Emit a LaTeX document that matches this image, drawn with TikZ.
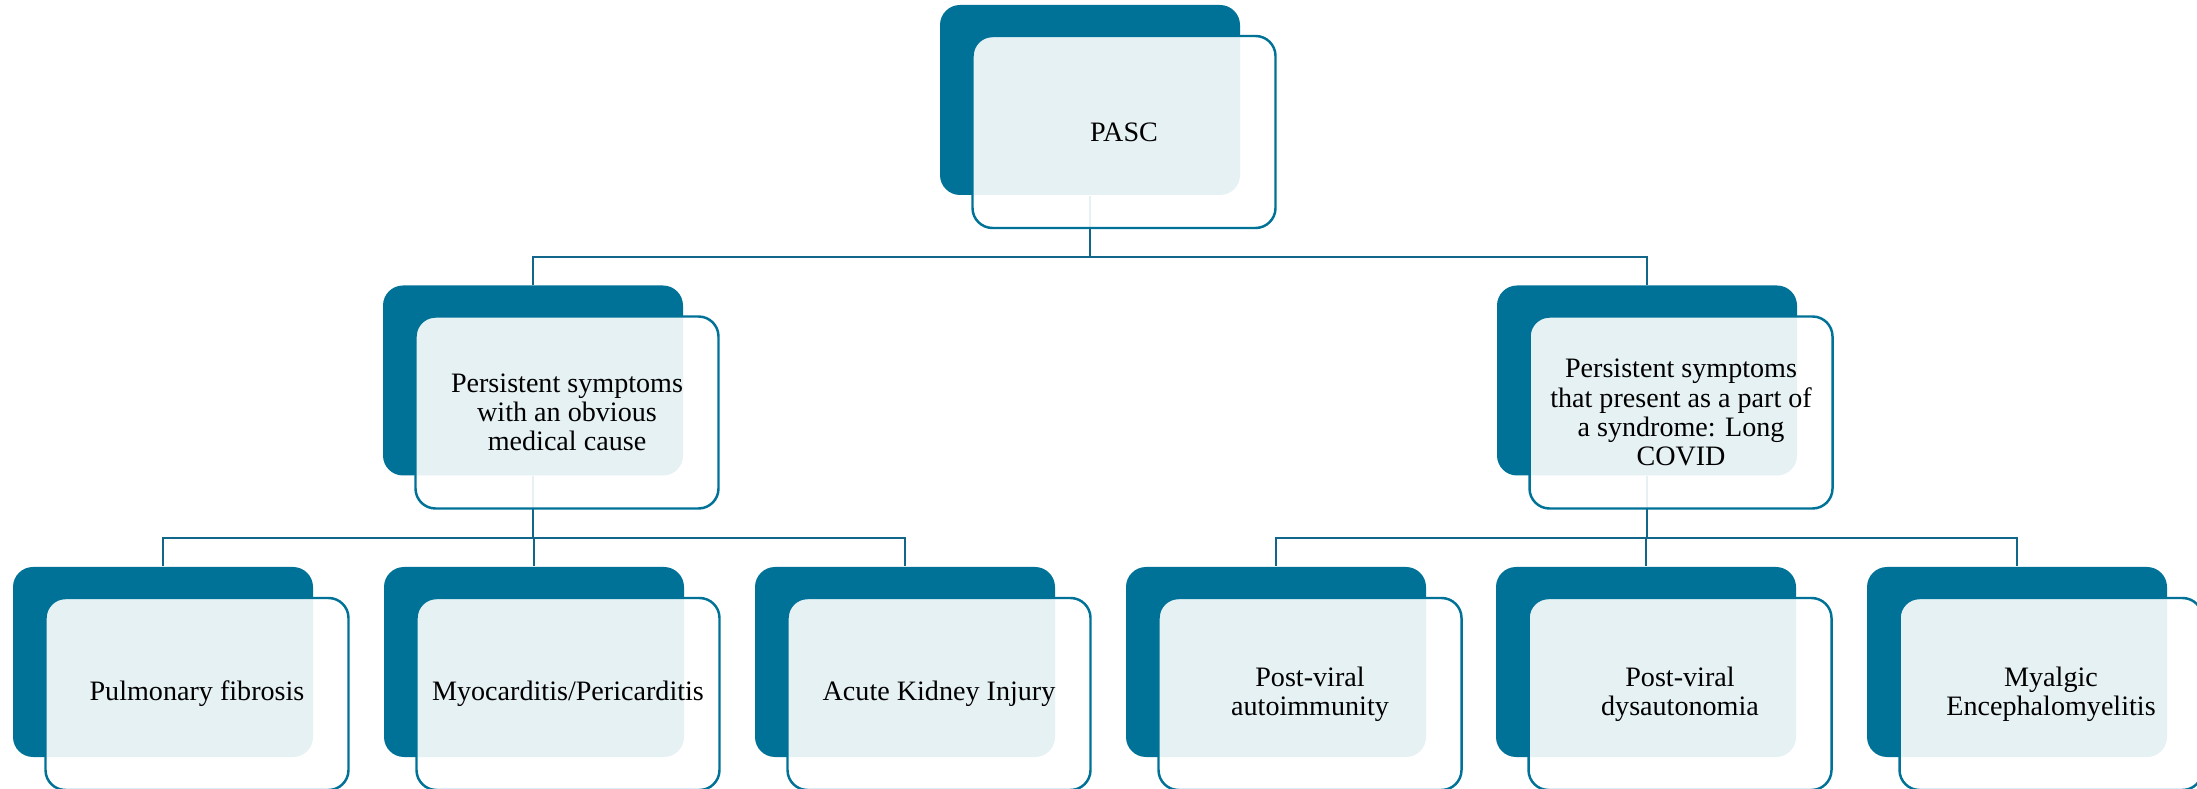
\documentclass[tikz,border=0pt]{standalone}
\usepackage{fontspec}
\setmainfont{Liberation Serif}
\usepackage{xcolor}
\usetikzlibrary{positioning, calc}
\definecolor{pascteal}{HTML}{007298}
\definecolor{linkteal}{HTML}{12668A}

\begin{document}
\begin{tikzpicture}[
  back/.style={rectangle, rounded corners=0.2cm, fill=pascteal, minimum width=3cm, minimum height=1.9cm, inner sep=0pt},
  front/.style={rectangle, rounded corners=0.2cm, draw=pascteal, line width=0.7pt, fill=white, fill opacity=0.9, text opacity=1,
    minimum width=3.03cm, minimum height=1.92cm, inner sep=1pt, align=center, font=\fontsize{8}{8.3}\selectfont},
  link/.style={draw=linkteal, line width=0.6pt}
]
  \useasboundingbox (0,0) rectangle (21.97,-7.89);

  % Back cards
  \node[back] (pasc-bg) at (10.90, -1.00) {};
  \node[back] (obv-bg) at (5.33, -3.805) {};
  \node[back] (syn-bg) at (16.47, -3.805) {};
  \node[back] (pf-bg) at (1.63, -6.62) {};
  \node[back] (myo-bg) at (5.34, -6.62) {};
  \node[back] (aki-bg) at (9.05, -6.62) {};
  \node[back] (auto-bg) at (12.76, -6.62) {};
  \node[back] (dys-bg) at (16.46, -6.62) {};
  \node[back] (me-bg) at (20.17, -6.62) {};

  % Links PASC -> causes
  \draw[link] (pasc-bg.south) -- ++(0,-0.61) -| (obv-bg.north);
  \draw[link] (pasc-bg.south) -- ++(0,-0.61) -| (syn-bg.north);

  % Links obvious cause -> conditions
  \draw[link] (obv-bg.south) -- ++(0,-0.615) -| (pf-bg.north);
  \draw[link] (obv-bg.south) -- ++(0,-0.615) -| (myo-bg.north);
  \draw[link] (obv-bg.south) -- ++(0,-0.615) -| (aki-bg.north);

  % Links syndrome -> conditions
  \draw[link] (syn-bg.south) -- ++(0,-0.615) -| (auto-bg.north);
  \draw[link] (syn-bg.south) -- ++(0,-0.615) -| (dys-bg.north);
  \draw[link] (syn-bg.south) -- ++(0,-0.615) -| (me-bg.north);

  % Front cards with text
  \node[front] (pasc) at (11.24, -1.32) {PASC};
  \node[front] (obv) at (5.67, -4.125) {Persistent symptoms\\with an obvious\\medical cause};
  \node[front] (syn) at (16.81, -4.125) {Persistent symptoms\\that present as a part of\\a syndrome: Long\\COVID};
  \node[front] (pf) at (1.97, -6.94) {Pulmonary fibrosis};
  \node[front] (myo) at (5.68, -6.94) {Myocarditis/Pericarditis};
  \node[front] (aki) at (9.39, -6.94) {Acute Kidney Injury};
  \node[front] (auto) at (13.10, -6.94) {Post-viral\\autoimmunity};
  \node[front] (dys) at (16.80, -6.94) {Post-viral\\dysautonomia};
  \node[front] (me) at (20.51, -6.94) {Myalgic\\Encephalomyelitis};
\end{tikzpicture}
\end{document}
